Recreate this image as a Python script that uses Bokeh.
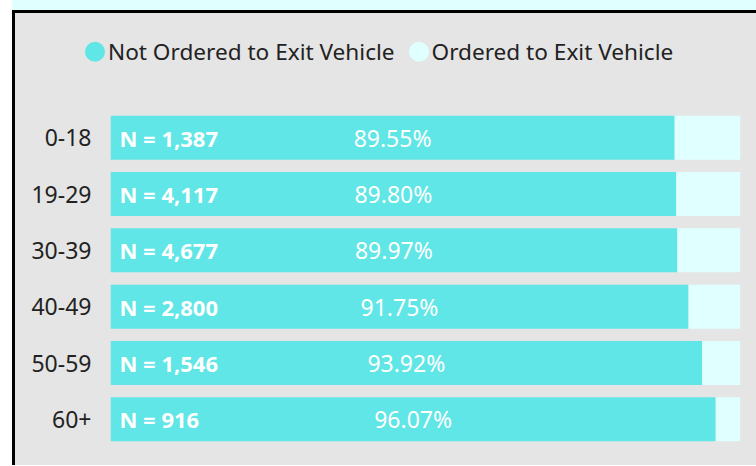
from bokeh.plotting import figure
from bokeh.models import Range1d, FactorRange, ColumnDataSource, Div
from bokeh.layouts import column
from bokeh.core.properties import value
from bokeh.embed import file_html
from bokeh.resources import INLINE

categories = ["0-18", "19-29", "30-39", "40-49", "50-59", "60+"]
not_ordered = [89.55, 89.80, 89.97, 91.75, 93.92, 96.07]
ordered = [10.45, 10.20, 10.03, 8.25, 6.08, 3.93]
counts = [1387, 4117, 4677, 2800, 1546, 916]
series_names = ["Not Ordered to Exit Vehicle", "Ordered to Exit Vehicle"]
colors = ["#60e6e6", "#e0ffff"]

FONT = "Noto Sans"
BG = "#e5e5e5"

src = ColumnDataSource(dict(
    cat=categories,
    no=not_ordered,
    o=ordered,
    n_label=[f"N = {c:,}" for c in counts],
    pct_label=[f"{v:.2f}%" for v in not_ordered],
    mid=[v / 2 for v in not_ordered],
))

# ---- legend as HTML ----
items_html = ""
for i, (name, col) in enumerate(zip(series_names, colors)):
    gap = "margin-left:14px;" if i > 0 else ""
    items_html += (
        f'<span style="{gap}display:inline-block;width:20px;height:20px;'
        f'border-radius:50%;background:{col};margin-right:3px;"></span>'
        f'<span style="white-space:nowrap;">{name}</span>'
    )
legend_html = (
    f'<div style="position:relative;width:731px;height:86px;">'
    f'<div style="position:absolute;left:65px;top:34px;transform:translateY(-50%);'
    f'display:flex;align-items:center;font-family:\'{FONT}\';font-size:22.6px;'
    f'color:#222222;line-height:1;">{items_html}</div></div>'
)
legend_div = Div(text=legend_html, width=731, height=86,
                 styles={"background-color": BG})

p = figure(width=731, height=356,
           y_range=FactorRange(factors=categories[::-1]),
           x_range=Range1d(0, 100),
           output_backend="svg", toolbar_location=None,
           min_border_left=95, min_border_right=6,
           min_border_top=0, min_border_bottom=18)

p.hbar_stack(["no", "o"], y="cat", height=0.78, color=colors, source=src,
             line_color=None)

p.text(x=0, y="cat", text="n_label", x_offset=9, source=src,
       text_font=value(FONT), text_font_style="bold", text_color="white",
       text_font_size="22px", text_baseline="middle")
p.text(x="mid", y="cat", text="pct_label", source=src,
       text_font=value(FONT), text_color="white", text_align="center",
       text_font_size="23px", text_baseline="middle")

p.xaxis.visible = False
p.yaxis.axis_line_color = None
p.yaxis.major_tick_line_color = None
p.yaxis.minor_tick_line_color = None
p.yaxis.major_tick_out = 0
p.yaxis.major_tick_in = 0
p.yaxis.major_label_standoff = 19
p.yaxis.major_label_text_font = FONT
p.yaxis.major_label_text_font_size = "23px"
p.yaxis.major_label_text_color = "#222222"
p.xgrid.grid_line_color = None
p.ygrid.grid_line_color = None
p.outline_line_color = None
p.background_fill_color = BG
p.border_fill_color = BG

layout = column(legend_div, p, spacing=0, margin=(10, 0, 0, 12),
                styles={
                    "background-color": BG,
                    "border-left": "3px solid black",
                    "border-top": "3px solid black",
                    "border-right": "3px solid black",
                    "box-shadow": "0px -10px 0px 0px #e0ffff",
                })

open("out.html", "w").write(file_html(layout, INLINE))
